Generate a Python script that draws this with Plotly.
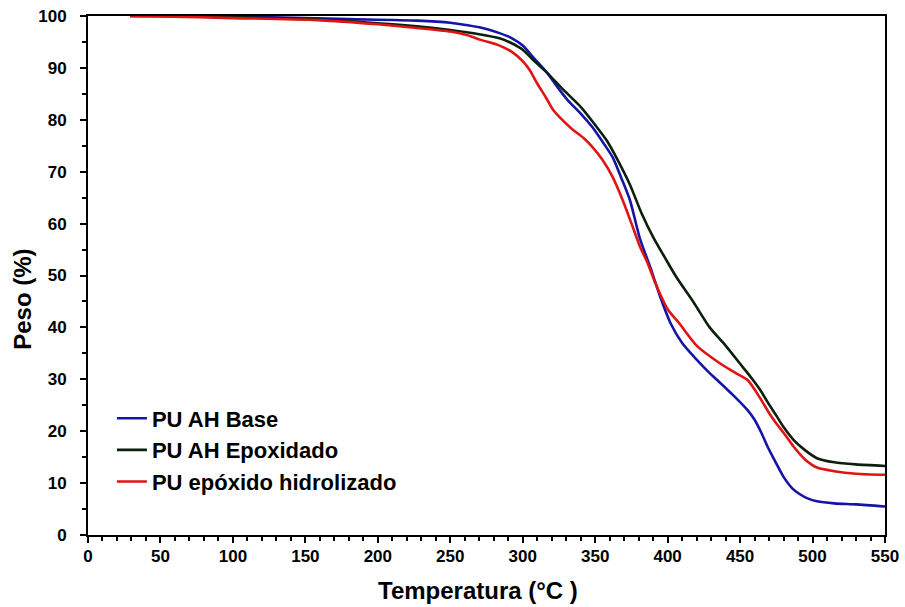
import plotly.graph_objects as go

# PU AH Base (blue)
base_t = [29, 50, 100, 150, 180, 227, 250, 262, 275, 284, 292, 300, 308, 317, 324, 331, 340, 348, 355, 362,
          368, 374, 381, 388, 395, 402, 410, 420, 429, 434, 445, 455, 460, 465, 469, 474, 480, 486, 491, 497,
          503, 515, 530, 550]
base_w = [100, 100, 99.9, 99.6, 99.4, 99.1, 98.7, 98.2, 97.5, 96.7, 95.8, 94.3, 91.8, 89, 86.3, 83.8, 81.2, 78.6,
          75.8, 72.8, 68.8, 64.5, 57.0, 51.6, 45.8, 40.8, 37.0, 33.8, 31.2, 29.9, 27.0, 24.1, 22.2, 19.5, 17.0,
          14.3, 11.2, 9.0, 7.9, 7.0, 6.5, 6.1, 5.9, 5.5]

# PU AH Epoxidado (black)
epox_t = [29, 50, 100, 150, 200, 227, 250, 270, 284, 292, 300, 308, 317, 328, 340, 350, 358, 366, 374, 382,
          390, 398, 406, 418, 429, 440, 452, 458, 464, 469, 475, 480, 487, 495, 503, 515, 530, 550]
epox_w = [100, 100, 99.8, 99.4, 98.6, 98.0, 97.3, 96.5, 95.7, 94.8, 93.5, 91.3, 89.0, 85.8, 82.5, 79.0, 76.0,
          72.0, 67.5, 62.0, 57.4, 53.5, 49.7, 44.8, 40.0, 36.5, 32.3, 30.2, 27.9, 25.6, 23.0, 20.8, 18.3, 16.3,
          14.8, 14.0, 13.6, 13.3]

# PU epóxido hidrolizado (red)
hidro_t = [29, 50, 100, 158, 200, 227, 250, 262, 271, 284, 293, 300, 305, 310, 316, 321, 328, 335, 342, 348,
           355, 362, 369, 376, 381, 386, 392, 400, 408, 420, 436, 447, 455, 464, 470, 475, 480, 487, 495, 503,
           515, 530, 550]
hidro_w = [100, 99.9, 99.6, 99.2, 98.4, 97.7, 97.0, 96.3, 95.4, 94.3, 93.0, 91.3, 89.5, 87.0, 84.3, 81.9, 79.8,
           78.0, 76.5, 74.8, 72.3, 69.0, 64.5, 59.3, 55.5, 52.5, 48.2, 43.5, 40.8, 36.5, 33.1, 31.2, 29.9, 26.3,
           23.5, 21.5, 19.7, 17.0, 14.5, 13.0, 12.3, 11.8, 11.6]

names = ["PU AH Base", "PU AH Epoxidado", "PU epóxido hidrolizado"]
colors = ["#1414a8", "#0c1e0c", "#e01414"]
x_title = "Temperatura (°C )"
y_title = "Peso (%)"

FONT = "Liberation Sans, Arial, sans-serif"

fig = go.Figure()
for t, w, n, c in [(base_t, base_w, names[0], colors[0]),
                   (epox_t, epox_w, names[1], colors[1]),
                   (hidro_t, hidro_w, names[2], colors[2])]:
    fig.add_trace(go.Scatter(x=t, y=w, name=n, mode="lines",
                             line=dict(color=c, width=2.6, shape="spline", smoothing=0.7)))

axis_common = dict(
    showline=True, linecolor="black", linewidth=2, mirror=True,
    ticks="outside", ticklen=6, tickwidth=2, tickcolor="black",
    showgrid=False, zeroline=False, ticklabeloverflow="allow",
    tickfont=dict(family=FONT, size=17, color="black", weight="bold"),
)

fig.update_xaxes(range=[0, 550], dtick=50, tick0=0,
                 minor=dict(ticks="outside", dtick=10, ticklen=4, tickwidth=1.5, tickcolor="black"),
                 ticklabelstandoff=-1,
                 **axis_common)
fig.update_yaxes(range=[0, 100], dtick=10, tick0=0,
                 minor=dict(ticks="outside", dtick=5, ticklen=4, tickwidth=1.5, tickcolor="black"),
                 ticklabelstandoff=10,
                 **axis_common)

title_font = dict(family=FONT, size=24, color="black", weight="bold")
fig.add_annotation(text=x_title, xref="paper", yref="paper", x=0.489, y=-0.106,
                   xanchor="center", yanchor="middle", showarrow=False, font=title_font)
fig.add_annotation(text=y_title, xref="paper", yref="paper", x=-0.0816, y=0.455,
                   xanchor="center", yanchor="middle", textangle=-90, showarrow=False, font=title_font)

fig.update_layout(
    width=905, height=607,
    margin=dict(l=88, r=20, t=16, b=72, autoexpand=False),
    paper_bgcolor="white", plot_bgcolor="white",
    showlegend=True,
    legend=dict(x=0.03, y=0.265, xanchor="left", yanchor="top",
                bgcolor="rgba(0,0,0,0)", borderwidth=0,
                font=dict(family=FONT, size=22, color="black", weight="bold"),
                itemwidth=30, tracegroupgap=0),
)

fig.write_html("out.html", config={"displayModeBar": False},
               post_script="document.body.style.margin='0';document.body.style.overflow='hidden';")
